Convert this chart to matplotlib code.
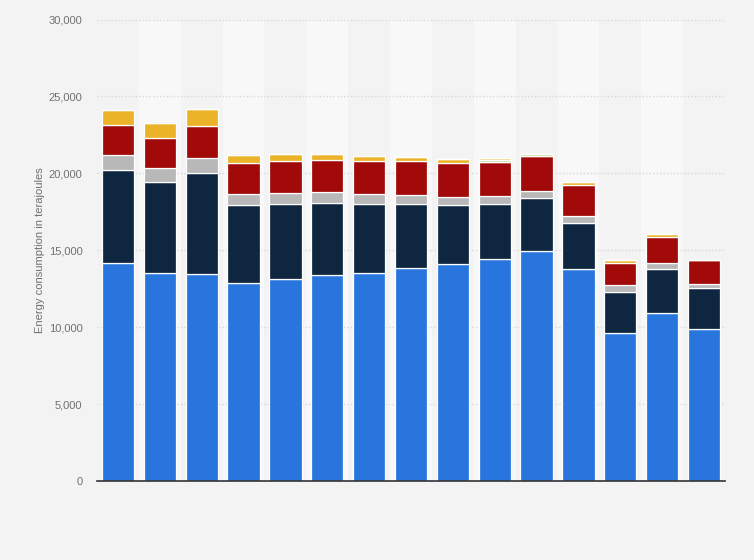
import matplotlib
matplotlib.use("Agg")
import matplotlib.pyplot as plt
import numpy as np

categories = [str(i) for i in range(1, 16)]
blue   = [14150, 13510, 13440, 12900, 13100, 13420, 13550, 13820, 14080, 14420, 14945, 13770, 9645, 10950, 9905]
navy   = [6070, 5930, 6580, 5040, 4910, 4650, 4430, 4190, 3860, 3580, 3430, 3000, 2670, 2800, 2630]
gray   = [980, 910, 960, 700, 720, 715, 670, 590, 520, 545, 480, 435, 410, 390, 300]
red    = [1950, 1955, 2090, 2020, 2090, 2090, 2150, 2170, 2200, 2175, 2240, 2040, 1460, 1700, 1500]
yellow = [960, 960, 1110, 520, 430, 370, 300, 280, 280, 0, 0, 175, 150, 200, 0]
green  = [0, 0, 0, 0, 0, 0, 0, 0, 0, 150, 150, 0, 0, 0, 0]
yellow_top = [0, 0, 0, 0, 0, 0, 0, 0, 0, 110, 0, 0, 0, 0, 0]

series = [
    (blue, "#2876dd"),
    (navy, "#0f2640"),
    (gray, "#b8b8b8"),
    (red, "#a20a0a"),
    (yellow, "#ebb328"),
    (green, "#c6d391"),
    (yellow_top, "#f0d488"),
]

plt.rcParams['font.family'] = ['Liberation Sans', 'DejaVu Sans']

fig = plt.figure(figsize=(7.54, 5.60), dpi=100)
fig.patch.set_facecolor("#f3f3f3")
ax = fig.add_axes([97/754, 1-481/560, (725-97)/754, (481-19.5)/560])
ax.set_facecolor("#f3f3f3")

x = np.arange(len(categories))
for i in x:
    if i % 2 == 1:
        ax.axvspan(i-0.5, i+0.5, color="#f8f8f8", zorder=0, lw=0)

bottom = np.zeros(len(categories))
for vals, col in series:
    v = np.array(vals, dtype=float)
    ax.bar(x, v, bottom=bottom, width=0.77, color=col, edgecolor="white",
           linewidth=0.9, zorder=3)
    bottom += v

ax.set_xlim(-0.5, len(categories)-0.5)
ax.set_ylim(0, 30000)
ax.set_yticks(np.arange(0, 30001, 5000))
ax.set_yticklabels([f"{int(t):,}" for t in np.arange(0, 30001, 5000)],
                   fontsize=8, color="#707070")
ax.set_xticks([])
ax.tick_params(axis="y", length=0, pad=10.5)
ax.yaxis.grid(True, linestyle=(0, (1, 1.5)), color="#d8d8d8", linewidth=1, zorder=1)
ax.set_axisbelow(True)
for s in ["top", "right", "left"]:
    ax.spines[s].set_visible(False)
ax.spines["bottom"].set_color("#333333")
ax.spines["bottom"].set_linewidth(1.2)
ax.spines["bottom"].set_zorder(5)

fig.text(40.5/754, 1-250/560, "Energy consumption in terajoules", rotation=90,
         ha="center", va="center", fontsize=8, color="#707070")

fig.savefig("out.png", dpi=100, facecolor=fig.get_facecolor())
